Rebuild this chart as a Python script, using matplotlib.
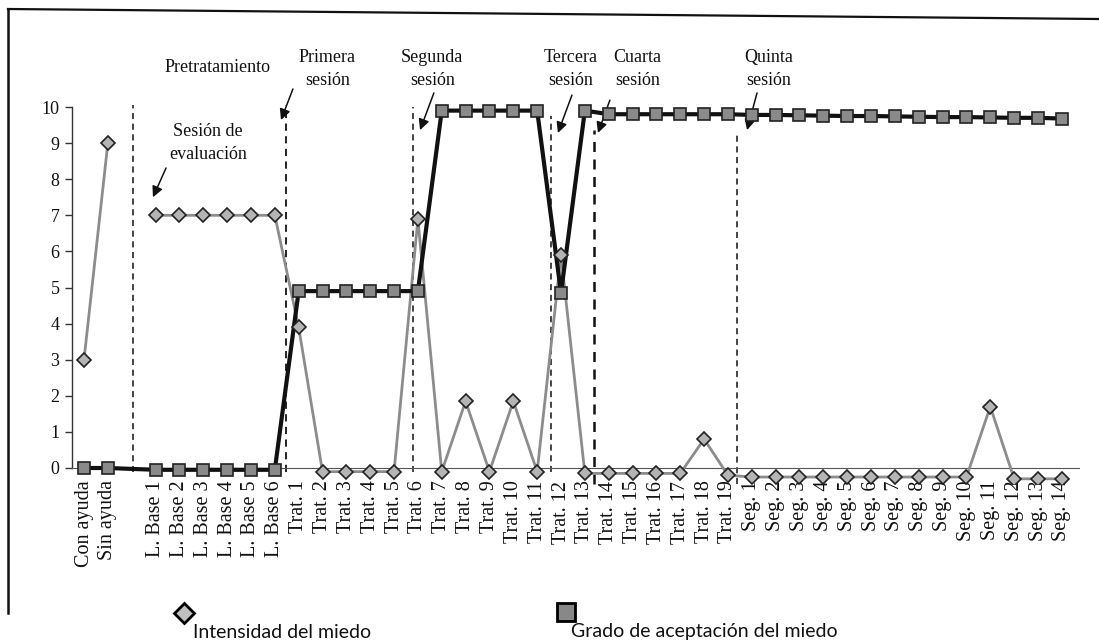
import matplotlib
matplotlib.use('Agg')
import matplotlib.pyplot as plt
import numpy as np
from matplotlib.lines import Line2D

nan = np.nan

categories = ['Con ayuda', 'Sin ayuda', '',
              'L. Base 1', 'L. Base 2', 'L. Base 3', 'L. Base 4', 'L. Base 5', 'L. Base 6',
              'Trat. 1', 'Trat. 2', 'Trat. 3', 'Trat. 4', 'Trat. 5', 'Trat. 6', 'Trat. 7',
              'Trat. 8', 'Trat. 9', 'Trat. 10', 'Trat. 11', 'Trat. 12', 'Trat. 13', 'Trat. 14',
              'Trat. 15', 'Trat. 16', 'Trat. 17', 'Trat. 18', 'Trat. 19',
              'Seg. 1', 'Seg. 2', 'Seg. 3', 'Seg. 4', 'Seg. 5', 'Seg. 6', 'Seg. 7', 'Seg. 8',
              'Seg. 9', 'Seg. 10', 'Seg. 11', 'Seg. 12', 'Seg. 13', 'Seg. 14']

intensidad = [3, 9, nan,
              7, 7, 7, 7, 7, 7,
              3.9, -0.1, -0.1, -0.1, -0.1, 6.9, -0.1, 1.85, -0.1, 1.85, -0.1, 5.9, -0.15,
              -0.15, -0.15, -0.15, -0.15, 0.8, -0.2,
              -0.25, -0.25, -0.25, -0.25, -0.25, -0.25, -0.25, -0.25, -0.25, -0.25, 1.7,
              -0.3, -0.3, -0.3]

aceptacion = [0, 0, nan,
              -0.05, -0.05, -0.05, -0.05, -0.05, -0.05,
              4.9, 4.9, 4.9, 4.9, 4.9, 4.9, 9.9, 9.9, 9.9, 9.9, 9.9, 4.85, 9.9,
              9.8, 9.8, 9.8, 9.8, 9.8, 9.8,
              9.78, 9.78, 9.77, 9.76, 9.75, 9.75, 9.74, 9.73, 9.72, 9.72, 9.71, 9.7, 9.7, 9.68]

y_ticks = [0, 1, 2, 3, 4, 5, 6, 7, 8, 9, 10]

# (x, y bottom, y top, linewidth)
phase_lines = [(2.05, -0.1, 10.05, 1.1), (8.45, -0.1, 10.05, 1.3), (13.8, -0.1, 10.0, 1.1),
               (19.6, -0.1, 9.75, 1.1), (21.4, -0.45, 9.35, 1.8), (27.4, -0.45, 9.3, 1.1)]

annotations = [
    ('Pretratamiento', 5.6, 11.1, None, None),
    ('Primera\nsesión', 10.2, 11.05, (8.76, 10.5), (8.26, 9.64)),
    ('Sesión de\nevaluación', 5.2, 9.0, (3.44, 8.31), (2.89, 7.5)),
    ('Segunda\nsesión', 14.6, 11.05, (14.67, 10.39), (14.09, 9.36)),
    ('Tercera\nsesión', 20.4, 11.05, (20.46, 10.33), (19.87, 9.28)),
    ('Cuarta\nsesión', 23.2, 11.05, (22.05, 10.19), (21.55, 9.28)),
    ('Quinta\nsesión', 28.7, 11.05, (28.22, 10.39), (27.8, 9.36)),
]

W, H = 1099, 643
fig = plt.figure(figsize=(W / 100, H / 100), dpi=100)

# axes placement (pixels)
x0_px, sp = 84.0, 23.85
y0_px, upp = 468.0, 36.1
xl = (-0.5, 41.7)
yl = (-0.45, 10.45)
left = x0_px + xl[0] * sp
right = x0_px + xl[1] * sp
bottom = y0_px - yl[0] * upp
top = y0_px - yl[1] * upp
ax = fig.add_axes([left / W, 1 - bottom / H, (right - left) / W, (bottom - top) / H])
ax.set_xlim(*xl)
ax.set_ylim(*yl)

x = np.arange(len(categories))
inten = np.array(intensidad, dtype=float)
acep = np.array(aceptacion, dtype=float)

# intensity (diamonds, gray line)
ax.plot(x, inten, color='#8c8c8c', lw=2.0, zorder=3)
ax.plot(x, inten, linestyle='none', marker='D', ms=6.8, mfc='#b4b4b4',
        mec='#222222', mew=1.2, zorder=5)

# acceptance (squares, black line)
m = ~np.isnan(acep)
ax.plot(x[m], acep[m], color='#111111', lw=3.0, zorder=4)
ax.plot(x[m], acep[m], linestyle='none', marker='s', ms=8.8, mfc='#8a8a8a',
        mec='#222222', mew=1.2, zorder=6)

# dashed phase lines
for px, yb, yt, lw in phase_lines:
    ax.plot([px, px], [yb, yt], color='#111111', lw=lw, linestyle=(0, (4, 3)),
            zorder=2, clip_on=False)

# spines
for s in ('top', 'right'):
    ax.spines[s].set_visible(False)
ax.spines['left'].set_bounds(0, 10)
ax.spines['left'].set_linewidth(1.0)
ax.spines['left'].set_color('#333333')
ax.spines['bottom'].set_position(('data', 0))
ax.spines['bottom'].set_color('#555555')
ax.spines['bottom'].set_linewidth(0.8)

ax.set_yticks(y_ticks)
ax.set_yticklabels([str(t) for t in y_ticks], family='Liberation Serif', fontsize=13,
                   color='#111111')
ax.tick_params(axis='y', direction='out', length=5, width=1, pad=4, color='#333333')
ax.set_xticks(x)
ax.set_xticklabels(categories, rotation=90, family='Liberation Serif', fontsize=14.5,
                   color='#111111')
ax.tick_params(axis='x', length=0, pad=9)

# annotations
for txt, tx, ty, a0, a1 in annotations:
    ax.text(tx, ty, txt, ha='center', va='center', family='Liberation Serif',
            fontsize=13, color='#111111', linespacing=1.4, clip_on=False)
    if a0 is not None:
        ax.annotate('', xy=a1, xytext=a0,
                    arrowprops=dict(arrowstyle='-|>', color='#111111', lw=1.1,
                                    mutation_scale=16, shrinkA=0, shrinkB=0),
                    annotation_clip=False)

# scanned frame lines
fig.add_artist(Line2D([8 / W, 1], [1 - 9 / H, 1 - 19 / H], color='#111111', lw=1.6))
fig.add_artist(Line2D([8 / W, 8 / W], [1 - 9 / H, 1 - 613 / H], color='#111111', lw=1.8))

# legend
fig.add_artist(Line2D([184 / W], [1 - 613 / H], marker='D', ms=10.5, mfc='#c0c0c0',
                      mec='#000000', mew=2, linestyle='none'))
fig.text(193 / W, 1 - 632 / H, 'Intensidad del miedo', family='Lato', fontsize=14,
         va='center', ha='left', color='#111111')
fig.add_artist(Line2D([566 / W], [1 - 612 / H], marker='s', ms=13.5, mfc='#888888',
                      mec='#000000', mew=2, linestyle='none'))
fig.text(571 / W, 1 - 632 / H, 'Grado de aceptación del miedo', family='Lato', fontsize=14,
         va='center', ha='left', color='#111111')

fig.savefig('out.png', dpi=100)
